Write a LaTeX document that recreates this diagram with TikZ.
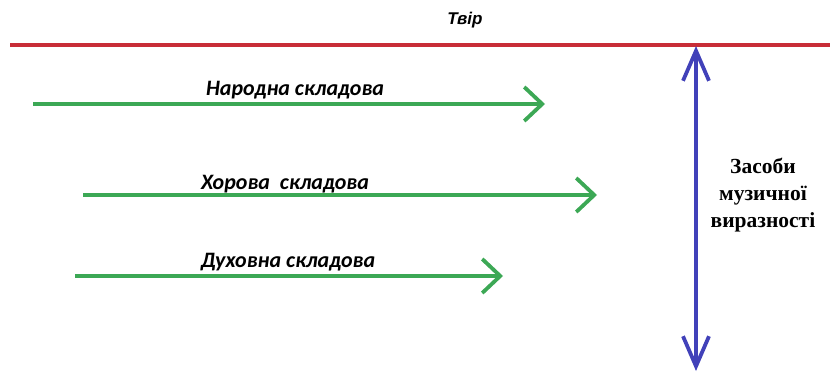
\documentclass[tikz,border=0pt]{standalone}
\usepackage{fontspec}
\usepackage{xcolor}
\usepackage{tikz}
\usetikzlibrary{arrows.meta}
\usetikzlibrary{positioning}
\newfontfamily\labelfont{Carlito}
\newfontfamily\titlefont{Liberation Sans}
\newfontfamily\sidefont{Liberation Serif}
\definecolor{tvirred}{RGB}{200,45,55}
\definecolor{skladgreen}{RGB}{60,168,85}
\definecolor{zasobblue}{RGB}{65,65,185}
\tikzstyle{skladova}=[
        font=\labelfont\bfseries\itshape\fontsize{22}{26}\selectfont,
        text=black,
        inner sep=0pt
]
\tikzstyle{tvir}=[font=\titlefont\bfseries\itshape\fontsize{17}{20}\selectfont,inner sep=0pt]
\tikzstyle{zasoby}=[font=\sidefont\bfseries\fontsize{21.5}{27}\selectfont,align=center,inner sep=0pt]
\tikzstyle{potik}=[-{Straight Barb[length=18pt,width=34pt,line width=3.8pt]},skladgreen,line width=3.8pt]
\tikzstyle{rivni}=[tvirred,line width=4pt]
\tikzstyle{diapazon}=[{Straight Barb[length=30pt,width=26pt,line width=3.8pt]}-{Straight Barb[length=30pt,width=26pt,line width=3.8pt]},zasobblue,line width=3.8pt]

\begin{document}
\begin{tikzpicture}[x=1pt,y=-1pt]
\useasboundingbox (0,0) rectangle (830,372);
\node[tvir] (tvir) at (465,20) {Твір};
\coordinate (r1) at (10,45);
\coordinate (r2) at (830,45);
\coordinate (b1) at (696,46);
\coordinate (b2) at (696,371);
\coordinate (n1) at (33,104);
\coordinate (n2) at (545,104);
\coordinate (h1) at (83,195);
\coordinate (h2) at (597,195);
\coordinate (d1) at (75,276);
\coordinate (d2) at (503,276);
\node[skladova] (narodna) at (295,90) {Народна складова};
\node[skladova] (horova) at (285,184) {Хорова\ \ складова};
\node[skladova] (duhovna) at (288,262) {Духовна\ складова};
\node[zasoby] (zasoby) at (763,195) {Засоби\\музичної\\виразності};
%Lignes et flèches
\draw[rivni] (r1) -- (r2);
\draw[diapazon] (b1) -- (b2);
\draw[potik] (n1) -- (n2);
\draw[potik] (h1) -- (h2);
\draw[potik] (d1) -- (d2);
\end{tikzpicture}
\end{document}
